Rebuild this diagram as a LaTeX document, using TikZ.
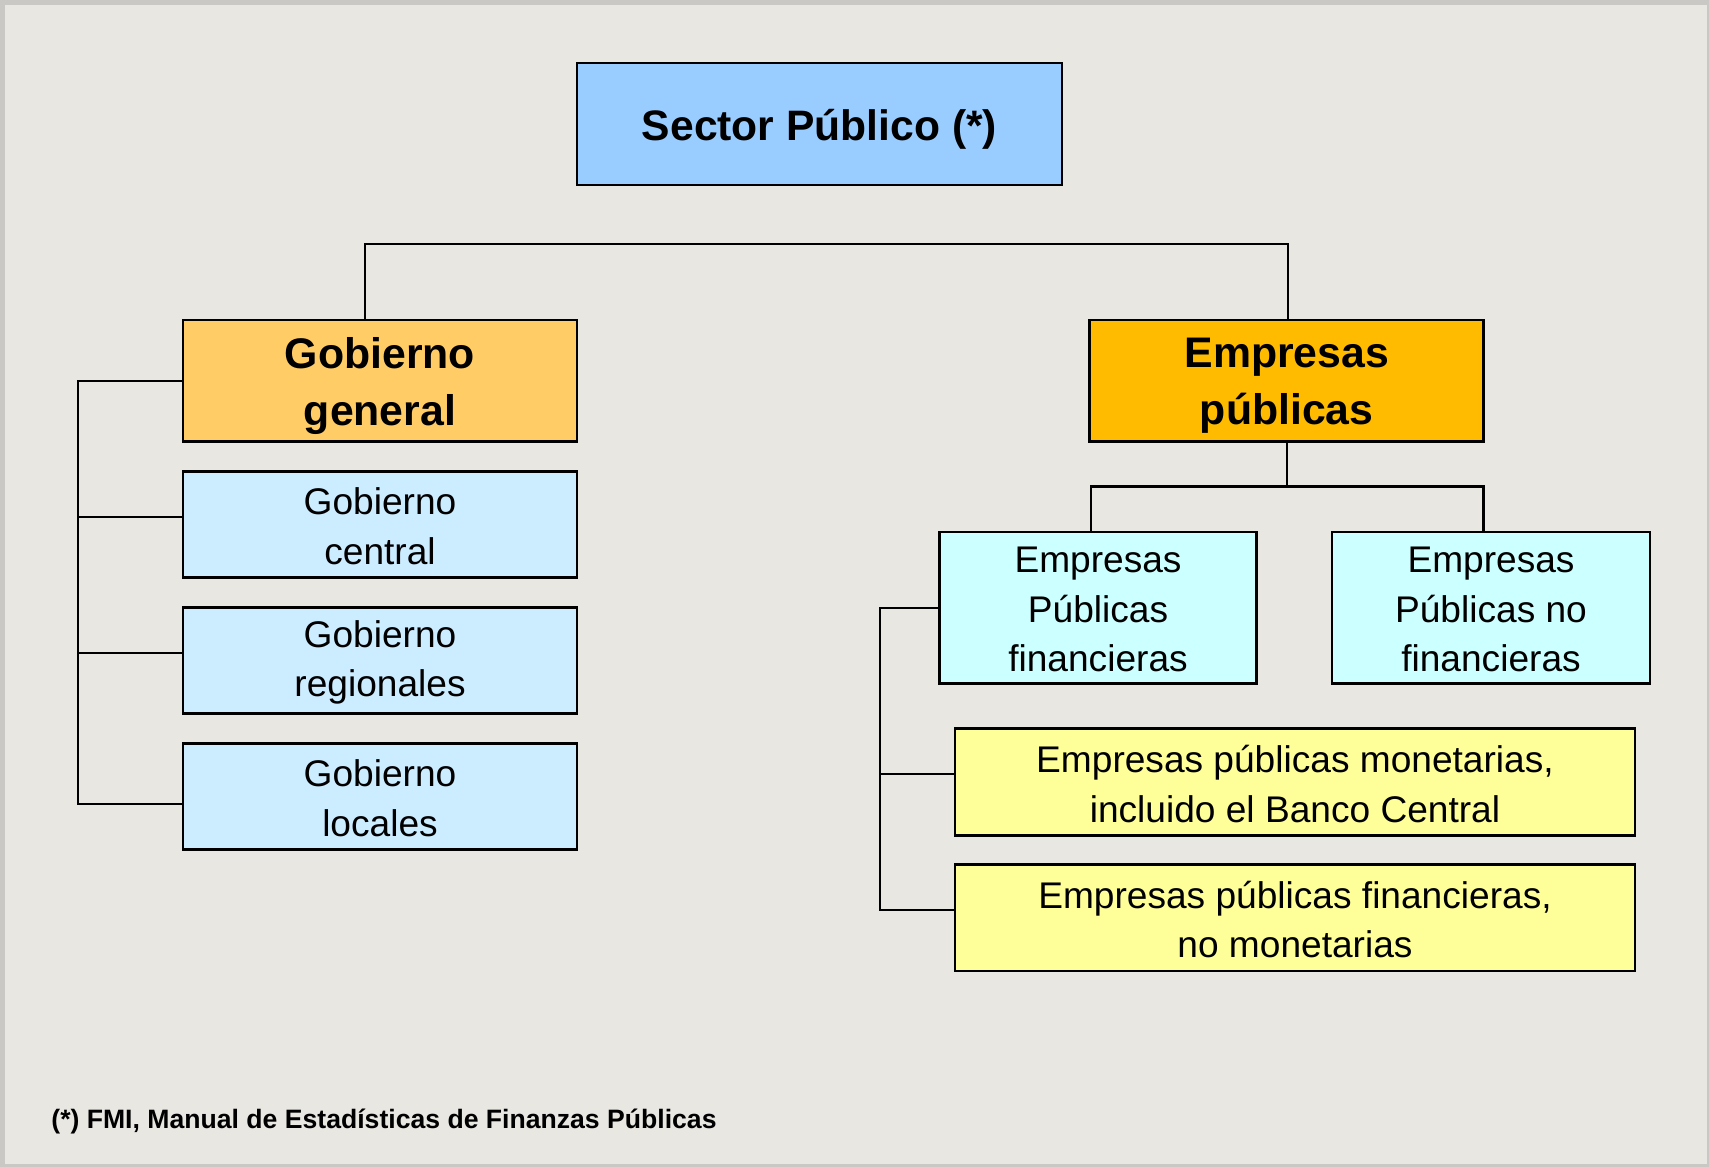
\documentclass[tikz,border=0pt]{standalone}
\usepackage{fontspec}
\setmainfont{Liberation Sans}
\usetikzlibrary{calc}
\definecolor{bgc}{HTML}{E9E7E2}
\definecolor{frm}{HTML}{C9C8C4}
\definecolor{cSP}{HTML}{99CCFF}
\definecolor{cGG}{HTML}{FFCC66}
\definecolor{cEP}{HTML}{FFBB00}
\definecolor{cGob}{HTML}{CCECFF}
\definecolor{cEmp}{HTML}{CCFFFF}
\definecolor{cYel}{HTML}{FFFF99}
\newcommand\lowr[2]{\raisebox{-#1}[\height][\depth]{#2}}
\newcommand\lb[1]{\lowr{2.6pt}{#1}}
\newcommand\ls[1]{\lowr{1pt}{#1}}
\begin{document}
\begin{tikzpicture}[x=0.5pt,y=-0.5pt,
  box/.style={draw=black, line width=1.4pt, inner sep=0pt, align=center},
  bigtxt/.style={font=\fontsize{21.4pt}{28.4pt}\selectfont\bfseries},
  smalltxt/.style={font=\fontsize{18.55pt}{24.8pt}\selectfont},
  conn/.style={draw=black, line width=1.1pt}]
\useasboundingbox (0,0) rectangle (1709,1167);
\fill[frm] (0,0) rectangle (1709,1167);
\fill[bgc] (5,5) rectangle (1707,1164);

% top
\node[box, fill=cSP, minimum width=242.5pt, minimum height=61pt,
      font=\fontsize{21.3pt}{26pt}\selectfont\bfseries] (sp) at (819.5,124) {\lowr{2.75pt}{Sector Público (*)}};

% level 2
\node[box, bigtxt, fill=cGG, minimum width=197pt, minimum height=60.75pt] (gg) at (380,380.75) {\lb{Gobierno}\\\lb{general}};
\node[box, bigtxt, fill=cEP, minimum width=197pt, minimum height=60.75pt] (ep) at (1286.75,380.75) {\lb{Empresas}\\\lb{públicas}};

% gobierno children
\node[box, smalltxt, fill=cGob, minimum width=197pt, minimum height=52.75pt] (gc) at (380,524.5) {\ls{Gobierno}\\\ls{central}};
\node[box, smalltxt, fill=cGob, minimum width=197pt, minimum height=52.75pt] (gr) at (380,660.5) {\ls{Gobierno}\\\ls{regionales}};
\node[box, smalltxt, fill=cGob, minimum width=197pt, minimum height=52.75pt] (gl) at (380,796.4) {\ls{Gobierno}\\\ls{locales}};

% empresas children
\node[box, smalltxt, fill=cEmp, minimum width=158.75pt, minimum height=75.75pt] (epf) at (1098,607.75) {\ls{Empresas}\\\ls{Públicas}\\\ls{financieras}};
\node[box, smalltxt, fill=cEmp, minimum width=159pt, minimum height=75.75pt] (epnf) at (1491,607.75) {\ls{Empresas}\\\ls{Públicas no}\\\ls{financieras}};

\node[box, smalltxt, fill=cYel, minimum width=340pt, minimum height=53.25pt] (mon) at (1295,782) {\ls{Empresas públicas monetarias,}\\\ls{incluido el Banco Central}};
\node[box, smalltxt, fill=cYel, minimum width=340pt, minimum height=53.25pt] (nomon) at (1295,917.7) {\ls{Empresas públicas financieras,}\\\ls{no monetarias}};

% footnote
\node[anchor=base west, inner sep=0pt, font=\fontsize{13.3pt}{16pt}\selectfont\bfseries] (fn) at (51,1128) {(*) FMI, Manual de Estadísticas de Finanzas Públicas};

% top connectors
\coordinate (hl) at (365,244);
\coordinate (hr) at (1288,244);
\draw[conn] (gg.north -| hl) -- (hl) -- (hr) -- (hr |- ep.north);

% left bracket
\coordinate (lb) at (78,380.75);
\coordinate (t2) at ($(gc.west)+(0,-7.5)$);
\coordinate (t3) at ($(gr.west)+(0,-7.5)$);
\coordinate (t4) at ($(gl.west)+(0,7.6)$);
\draw[conn] (gg.west) -- (gg.west -| lb) -- (t4 -| lb) -- (t4);
\draw[conn] (t2) -- (t2 -| lb);
\draw[conn] (t3) -- (t3 -| lb);

% empresas split
\coordinate (ehl) at (1091,486.4);
\coordinate (ehr) at (1483.5,486.4);
\draw[conn] (ep.south) -- (ep.south |- ehl);
\draw[conn] (ehl |- epf.north) -- (ehl) -- (ehr) -- (ehr |- epnf.north);

% right bracket
\coordinate (rb) at (880,607.75);
\coordinate (t5) at ($(mon.west)+(0,-8.4)$);
\coordinate (t6) at ($(nomon.west)+(0,-7.7)$);
\draw[conn] (epf.west) -- (epf.west -| rb) -- (t6 -| rb) -- (t6);
\draw[conn] (t5) -- (t5 -| rb);
\end{tikzpicture}
\end{document}
